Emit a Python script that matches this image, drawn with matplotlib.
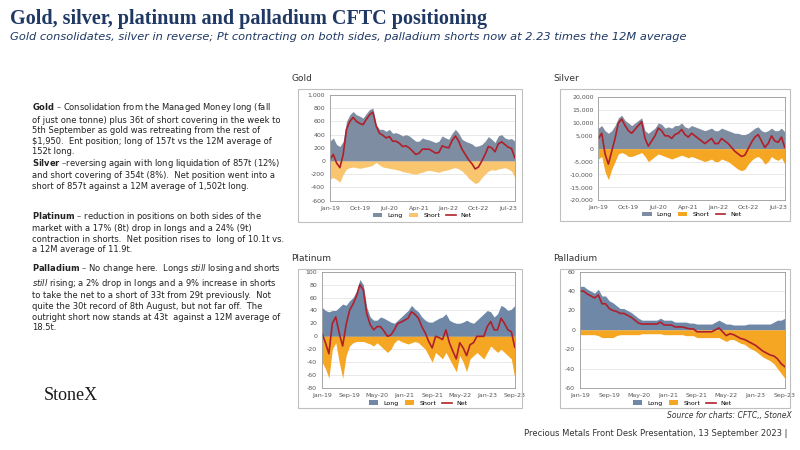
import matplotlib
matplotlib.use("Agg")
import matplotlib.pyplot as plt
import numpy as np
from matplotlib.patches import Rectangle

months = 57  # Jan-19 .. Sep-23
gold_long = [300,350,250,220,300,600,700,750,700,680,650,720,780,800,550,480,480,450,480,420,430,410,380,400,380,340,300,300,350,330,320,300,280,300,380,350,330,420,480,420,330,300,280,260,220,230,250,300,370,330,280,380,400,350,330,340,300]
gold_short = [-270,-250,-280,-320,-200,-120,-100,-90,-100,-110,-100,-90,-80,-60,-20,-60,-90,-100,-110,-120,-130,-140,-160,-170,-180,-190,-200,-180,-170,-150,-140,-150,-160,-170,-150,-140,-130,-110,-100,-120,-150,-200,-260,-300,-340,-320,-250,-200,-150,-130,-140,-120,-110,-100,-120,-150,-250]
silver_long = [8000,9000,7000,6000,7000,9000,12000,13000,11000,10000,9000,10000,11000,12000,7000,6000,7000,8000,10000,9500,8000,8500,8000,9000,9000,10000,8500,8000,9000,8500,8000,7500,7000,7500,8000,7000,7000,8000,7500,7000,6500,6000,6000,5500,5500,6000,7000,8000,8500,7000,6500,7000,8000,7000,7000,8000,6500]
silver_short = [-4000,-3000,-9000,-12000,-8000,-5000,-2000,-1500,-2000,-3000,-3000,-2500,-2000,-1500,-3000,-5000,-4000,-3000,-2000,-2500,-3000,-3500,-4000,-3500,-3000,-2500,-3000,-3500,-3000,-3500,-4000,-4500,-5000,-4500,-4000,-5000,-5000,-4000,-4500,-5000,-6000,-7000,-8000,-8500,-8000,-6000,-4500,-3500,-3000,-4000,-6000,-5000,-3000,-4000,-4500,-3500,-6000]
plat_long = [45,40,38,40,40,45,50,48,55,60,70,88,80,45,30,25,25,30,28,25,22,20,25,30,35,40,48,42,38,30,25,22,22,25,28,30,35,25,22,20,20,22,25,22,20,25,30,35,40,38,30,35,48,45,40,42,48]
plat_short = [-40,-50,-65,-20,-10,-40,-65,-30,-15,-10,-8,-8,-8,-10,-12,-15,-10,-15,-20,-25,-20,-10,-5,-8,-10,-12,-10,-8,-10,-15,-20,-30,-40,-25,-30,-35,-25,-35,-45,-55,-30,-40,-55,-35,-30,-25,-30,-35,-25,-15,-20,-25,-20,-25,-30,-35,-65]
pall_long = [45,45,42,40,38,42,35,35,30,28,25,22,22,20,18,15,12,10,10,10,10,10,12,10,10,10,8,8,8,8,7,7,6,6,6,6,6,8,10,8,6,6,5,5,5,5,6,6,6,6,6,6,6,8,10,10,12]
pall_short = [-5,-5,-5,-5,-5,-6,-8,-8,-8,-8,-6,-5,-5,-5,-5,-5,-5,-4,-4,-4,-4,-4,-4,-5,-5,-5,-5,-5,-5,-6,-6,-6,-8,-8,-8,-8,-8,-8,-8,-10,-12,-10,-10,-12,-14,-15,-18,-20,-22,-25,-28,-30,-32,-35,-40,-45,-50]
ticks9 = ["Jan-19","Oct-19","Jul-20","Apr-21","Jan-22","Oct-22","Jul-23"]
ticks8 = ["Jan-19","Sep-19","May-20","Jan-21","Sep-21","May-22","Jan-23","Sep-23"]

NAVY = "#1F3864"
fig = plt.figure(figsize=(8, 4.5), dpi=100)
fig.patch.set_facecolor("white")

fig.text(0.012, 0.958, "Gold, silver, platinum and palladium CFTC positioning", fontsize=14.5,
         fontweight="bold", color=NAVY, family="Liberation Serif", va="center")
fig.text(0.012, 0.918, "Gold consolidates, silver in reverse; Pt contracting on both sides, palladium shorts now at 2.23 times the 12M average",
         fontsize=8.2, style="italic", color=NAVY, va="center")

paras = [
 (0.775, r"$\bf{Gold}$ – Consolidation from the Managed Money long (fall" "\n"
  "of just one tonne) plus 36t of short covering in the week to\n"
  "5th September as gold was retreating from the rest of\n"
  "\\$1,950.  Ent position; long of 157t vs the 12M average of\n152t long."),
 (0.652, r"$\bf{Silver}$ –reversing again with long liquidation of 857t (12%)" "\n"
  "and short covering of 354t (8%).  Net position went into a\n"
  "short of 857t against a 12M average of 1,502t long."),
 (0.534, r"$\bf{Platinum}$ – reduction in positions on both sides of the" "\n"
  "market with a 17% (8t) drop in longs and a 24% (9t)\n"
  "contraction in shorts.  Net position rises to  long of 10.1t vs.\n"
  "a 12M average of 11.9t."),
 (0.418, r"$\bf{Palladium}$ – No change here.  Longs $\it{still}$ losing and shorts" "\n"
  r"$\it{still}$ rising; a 2% drop in longs and a 9% increase in shorts" "\n"
  "to take the net to a short of 33t from 29t previously.  Not\n"
  "quite the 30t record of 8th August, but not far off.  The\n"
  "outright short now stands at 43t  against a 12M average of\n18.5t."),
]
for y, t in paras:
    fig.text(0.04, y, t, fontsize=6.0, va="top", linespacing=1.22, color="#222222")

fig.text(0.055, 0.12, "StoneX", fontsize=13, family="Liberation Serif", color="#1a1a1a", va="center")
fig.text(0.985, 0.032, "Precious Metals Front Desk Presentation, 13 September 2023 |", fontsize=6,
         ha="right", color="#333333")
fig.text(0.99, 0.071, "Source for charts: CFTC,, StoneX", fontsize=5.5, style="italic", ha="right", color="#333333")

def panel(frame, rect, title, lng, sht, ylim, step, ticks, every, lcol, scol, fmt):
    fx, fy, fw, fh = frame
    fig.patches.append(Rectangle((fx, fy), fw, fh, transform=fig.transFigure, fill=False,
                                 ec="#bfbfbf", lw=0.8))
    fig.text(fx - 0.008, fy + fh + 0.018, title, fontsize=6.5, color="#333333")
    ax = fig.add_axes(rect)
    x = np.arange(len(lng))
    lng = np.array(lng); sht = np.array(sht)
    ax.fill_between(x, 0, lng, color=lcol, lw=0, label="Long")
    ax.fill_between(x, 0, sht, color=scol, lw=0, label="Short")
    ax.plot(x, lng + sht, color="#B0202A", lw=1.2, label="Net")
    ax.set_xlim(0, len(lng) - 1)
    ax.set_ylim(*ylim)
    ax.set_yticks(np.arange(ylim[0], ylim[1] + step / 2, step))
    ax.yaxis.set_major_formatter(fmt)
    ax.set_xticks(np.arange(0, len(lng), every)[:len(ticks)])
    ax.set_xticklabels(ticks)
    ax.tick_params(labelsize=4.5, length=0, colors="#555555")
    ax.grid(axis="y", color="#e0e0e0", lw=0.5)
    ax.set_axisbelow(True)
    for s in ax.spines.values():
        s.set_color("#999999"); s.set_linewidth(0.6)
    ax.legend(loc="upper center", bbox_to_anchor=(0.5, -0.06), ncol=3, fontsize=4.5,
              frameon=False, handlelength=1.5, columnspacing=1.0)
    return ax

fmt_k = matplotlib.ticker.FuncFormatter(lambda v, p: f"{int(v):,}")
panel((0.3725, 0.507, 0.28, 0.296), (0.4125, 0.554, 0.231, 0.235), "Gold", gold_long, gold_short,
      (-600, 1000), 200, ticks9, 9, "#7E8DA1", "#F9C56E", fmt_k)
panel((0.70, 0.51, 0.288, 0.293), (0.748, 0.555, 0.233, 0.229), "Silver", silver_long, silver_short,
      (-20000, 20000), 5000, ticks9, 9, "#7E8DA1", "#F5A623", fmt_k)
panel((0.3725, 0.093, 0.28, 0.31), (0.4025, 0.138, 0.241, 0.258), "Platinum", plat_long, plat_short,
      (-80, 100), 20, ticks8, 8, "#6F88A8", "#F5A623", fmt_k)
panel((0.70, 0.093, 0.288, 0.31), (0.725, 0.138, 0.256, 0.258), "Palladium", pall_long, pall_short,
      (-60, 60), 20, ticks8, 8, "#6F88A8", "#F5A623", fmt_k)

fig.savefig("out.png", dpi=100)
